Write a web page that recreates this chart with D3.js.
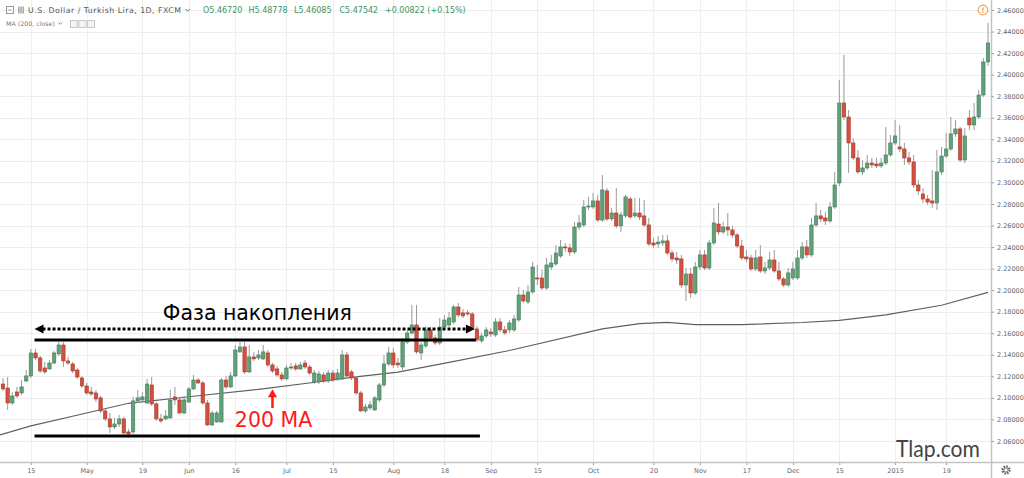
<!DOCTYPE html>
<html>
<head>
<meta charset="utf-8">
<script src="https://cdn.jsdelivr.net/npm/d3@7"></script>
<style>
  html, body { margin: 0; padding: 0; background: #fff; }
  svg { display: block; font-family: "DejaVu Sans", sans-serif; }
</style>
</head>
<body>
<div id="chart"></div>
<script>
// USD/TRY daily candles, Apr 7 2014 .. Jan 30 2015 (no bars on Dec 25, Jan 1)
const firstDay = '2014-04-07';
const lastDay = '2015-01-30';
const skipDays = ['2014-12-25', '2015-01-01'];

const open = [
  2.1129, 2.1092, 2.0953, 2.1055, 2.1046, 2.1157, 2.1204, 2.1417, 2.1371, 2.1278,
  2.1269, 2.1324, 2.1408, 2.1491, 2.1343, 2.1315, 2.1259, 2.1185, 2.1111, 2.1055,
  2.1046, 2.1000, 2.0879, 2.0805, 2.0730, 2.0758, 2.0805, 2.0684, 2.0684, 2.0972,
  2.0981, 2.0953, 2.1120, 2.0944, 2.0805, 2.0805, 2.0814, 2.1009, 2.0981, 2.0860,
  2.0962, 2.1083, 2.1166, 2.1139, 2.0953, 2.0749, 2.0777, 2.0777, 2.1166, 2.1102,
  2.1204, 2.1427, 2.1473, 2.1241, 2.1380, 2.1371, 2.1362, 2.1417, 2.1306, 2.1269,
  2.1213, 2.1176, 2.1278, 2.1297, 2.1269, 2.1324, 2.1287, 2.1148, 2.1148, 2.1213,
  2.1157, 2.1231, 2.1176, 2.1176, 2.1399, 2.1241, 2.1185, 2.1046, 2.0879, 2.0907,
  2.0888, 2.0981, 2.1120, 2.1315, 2.1417, 2.1324, 2.1287, 2.1519, 2.1603, 2.1677,
  2.1417, 2.1482, 2.1631, 2.1556, 2.1510, 2.1658, 2.1677, 2.1705, 2.1844, 2.1789,
  2.1789, 2.1779, 2.1640, 2.1529, 2.1575, 2.1612, 2.1584, 2.1705, 2.1631, 2.1631,
  2.1631, 2.1723, 2.1955, 2.1891, 2.1983, 2.2113, 2.2113, 2.2020, 2.2215, 2.2243,
  2.2317, 2.2401, 2.2392, 2.2354, 2.2586, 2.2605, 2.2772, 2.2772, 2.2828, 2.2651,
  2.2921, 2.2661, 2.2716, 2.2596, 2.2689, 2.2846, 2.2689, 2.2716, 2.2689, 2.2605,
  2.2438, 2.2429, 2.2438, 2.2457, 2.2345, 2.2299, 2.2290, 2.2048, 2.2150, 2.1974,
  2.2215, 2.2327, 2.2206, 2.2438, 2.2614, 2.2540, 2.2586, 2.2559, 2.2512, 2.2410,
  2.2308, 2.2299, 2.2197, 2.2308, 2.2178, 2.2206, 2.2280, 2.2178, 2.2104, 2.2048,
  2.2113, 2.2113, 2.2299, 2.2401, 2.2327, 2.2605, 2.2689, 2.2670, 2.2642, 2.2772,
  2.2995, 2.3737, 2.3607, 2.3366, 2.3227, 2.3097, 2.3134, 2.3180, 2.3171, 2.3153,
  2.3180, 2.3255, 2.3366, 2.3329, 2.3310, 2.3227, 2.3190, 2.2976, 2.2893, 2.2846,
  2.2828, 2.2809, 2.3097, 2.3245, 2.3310, 2.3450, 2.3496, 2.3208, 2.3598, 2.3533,
  2.3607, 2.3811, 2.4118
];
const high = [
  2.1185, 2.1194, 2.1055, 2.1102, 2.1166, 2.1259, 2.1454, 2.1454, 2.1389, 2.1334,
  2.1352, 2.1436, 2.1519, 2.1519, 2.1380, 2.1334, 2.1278, 2.1204, 2.1139, 2.1102,
  2.1074, 2.1018, 2.0897, 2.0860, 2.0814, 2.0842, 2.0823, 2.0712, 2.1009, 2.1074,
  2.1055, 2.1176, 2.1194, 2.0962, 2.0851, 2.0888, 2.1074, 2.1102, 2.1000, 2.1018,
  2.1102, 2.1213, 2.1185, 2.1157, 2.0981, 2.0879, 2.0879, 2.1185, 2.1204, 2.1241,
  2.1491, 2.1519, 2.1519, 2.1491, 2.1427, 2.1445, 2.1491, 2.1445, 2.1324, 2.1297,
  2.1241, 2.1306, 2.1324, 2.1324, 2.1334, 2.1352, 2.1306, 2.1259, 2.1250, 2.1241,
  2.1259, 2.1259, 2.1269, 2.1445, 2.1427, 2.1259, 2.1204, 2.1065, 2.0944, 2.0972,
  2.1018, 2.1139, 2.1399, 2.1473, 2.1464, 2.1371, 2.1556, 2.1631, 2.1863, 2.1863,
  2.1519, 2.1668, 2.1658, 2.1584, 2.1742, 2.1770, 2.1798, 2.1863, 2.1881, 2.1826,
  2.1816, 2.1798, 2.1668, 2.1603, 2.1658, 2.1649, 2.1742, 2.1742, 2.1668, 2.1723,
  2.1770, 2.2030, 2.2002, 2.2048, 2.2262, 2.2234, 2.2187, 2.2299, 2.2327, 2.2419,
  2.2466, 2.2438, 2.2429, 2.2633, 2.2698, 2.2837, 2.2865, 2.2902, 2.2883, 2.3069,
  2.2948, 2.2763, 2.2948, 2.2726, 2.2883, 2.2865, 2.2856, 2.2856, 2.2837, 2.2670,
  2.2484, 2.2503, 2.2512, 2.2512, 2.2373, 2.2354, 2.2327, 2.2206, 2.2206, 2.2262,
  2.2373, 2.2373, 2.2466, 2.2763, 2.2809, 2.2633, 2.2716, 2.2596, 2.2531, 2.2466,
  2.2373, 2.2327, 2.2373, 2.2419, 2.2262, 2.2354, 2.2373, 2.2262, 2.2122, 2.2206,
  2.2262, 2.2373, 2.2447, 2.2466, 2.2670, 2.2809, 2.2744, 2.2726, 2.2818, 2.3097,
  2.3951, 2.4183, 2.3672, 2.3412, 2.3301, 2.3208, 2.3255, 2.3227, 2.3227, 2.3227,
  2.3514, 2.3440, 2.3579, 2.3533, 2.3366, 2.3282, 2.3255, 2.3023, 2.2948, 2.2883,
  2.3115, 2.3301, 2.3329, 2.3459, 2.3607, 2.3579, 2.3514, 2.3505, 2.3672, 2.3737,
  2.3858, 2.4155, 2.4480
];
const low = [
  2.1065, 2.0888, 2.0935, 2.1000, 2.1027, 2.1148, 2.1185, 2.1352, 2.1231, 2.1222,
  2.1259, 2.1315, 2.1389, 2.1287, 2.1306, 2.1231, 2.1176, 2.1092, 2.1027, 2.1018,
  2.0962, 2.0860, 2.0786, 2.0675, 2.0712, 2.0730, 2.0656, 2.0628, 2.0666, 2.0953,
  2.0962, 2.0944, 2.0925, 2.0786, 2.0768, 2.0795, 2.0805, 2.0935, 2.0851, 2.0851,
  2.0953, 2.1074, 2.1129, 2.0935, 2.0740, 2.0740, 2.0768, 2.0768, 2.1083, 2.1092,
  2.1194, 2.1417, 2.1222, 2.1231, 2.1343, 2.1352, 2.1352, 2.1287, 2.1231, 2.1194,
  2.1157, 2.1166, 2.1259, 2.1250, 2.1259, 2.1269, 2.1213, 2.1129, 2.1129, 2.1139,
  2.1139, 2.1148, 2.1157, 2.1166, 2.1185, 2.1166, 2.1027, 2.0870, 2.0860, 2.0888,
  2.0879, 2.0962, 2.1102, 2.1297, 2.1278, 2.1278, 2.1241, 2.1501, 2.1584, 2.1408,
  2.1352, 2.1464, 2.1538, 2.1491, 2.1491, 2.1640, 2.1658, 2.1686, 2.1751, 2.1742,
  2.1761, 2.1631, 2.1519, 2.1510, 2.1556, 2.1566, 2.1566, 2.1612, 2.1584, 2.1603,
  2.1612, 2.1705, 2.1881, 2.1872, 2.1965, 2.2048, 2.2002, 2.2002, 2.2187, 2.2225,
  2.2299, 2.2354, 2.2317, 2.2336, 2.2559, 2.2586, 2.2744, 2.2754, 2.2633, 2.2633,
  2.2642, 2.2642, 2.2577, 2.2540, 2.2670, 2.2661, 2.2670, 2.2651, 2.2586, 2.2410,
  2.2392, 2.2392, 2.2410, 2.2327, 2.2262, 2.2243, 2.2020, 2.1900, 2.1928, 2.1955,
  2.2187, 2.2187, 2.2187, 2.2419, 2.2512, 2.2521, 2.2503, 2.2484, 2.2392, 2.2280,
  2.2262, 2.2178, 2.2178, 2.2160, 2.2150, 2.2187, 2.2160, 2.2085, 2.2030, 2.2030,
  2.2095, 2.2095, 2.2280, 2.2299, 2.2308, 2.2586, 2.2633, 2.2605, 2.2624, 2.2754,
  2.2967, 2.3579, 2.3088, 2.3208, 2.3078, 2.3069, 2.3115, 2.3134, 2.3134, 2.3134,
  2.3162, 2.3236, 2.3347, 2.3282, 2.3162, 2.3162, 2.2948, 2.2883, 2.2809, 2.2791,
  2.2763, 2.2744, 2.3069, 2.3227, 2.3292, 2.3422, 2.3190, 2.3180, 2.3487, 2.3487,
  2.3589, 2.3793, 2.4081
];
const close = [
  2.1083, 2.0953, 2.1018, 2.1018, 2.1102, 2.1204, 2.1417, 2.1371, 2.1250, 2.1241,
  2.1324, 2.1417, 2.1491, 2.1343, 2.1324, 2.1250, 2.1194, 2.1111, 2.1046, 2.1037,
  2.0990, 2.0879, 2.0805, 2.0730, 2.0758, 2.0805, 2.0675, 2.0666, 2.0972, 2.1000,
  2.1009, 2.1129, 2.0944, 2.0805, 2.0786, 2.0832, 2.0981, 2.0981, 2.0860, 2.0981,
  2.1083, 2.1166, 2.1139, 2.0953, 2.0749, 2.0860, 2.0860, 2.1166, 2.1102, 2.1204,
  2.1445, 2.1473, 2.1241, 2.1380, 2.1362, 2.1399, 2.1427, 2.1306, 2.1250, 2.1213,
  2.1176, 2.1278, 2.1287, 2.1269, 2.1306, 2.1287, 2.1231, 2.1231, 2.1222, 2.1157,
  2.1231, 2.1166, 2.1231, 2.1399, 2.1204, 2.1185, 2.1046, 2.0879, 2.0916, 2.0935,
  2.1000, 2.1120, 2.1315, 2.1417, 2.1306, 2.1306, 2.1519, 2.1603, 2.1677, 2.1427,
  2.1491, 2.1631, 2.1556, 2.1510, 2.1658, 2.1723, 2.1742, 2.1844, 2.1770, 2.1761,
  2.1779, 2.1649, 2.1538, 2.1575, 2.1631, 2.1594, 2.1705, 2.1631, 2.1603, 2.1696,
  2.1733, 2.1955, 2.1900, 2.1983, 2.2215, 2.2104, 2.2020, 2.2234, 2.2252, 2.2345,
  2.2401, 2.2392, 2.2354, 2.2586, 2.2624, 2.2772, 2.2781, 2.2828, 2.2651, 2.2930,
  2.2661, 2.2716, 2.2596, 2.2698, 2.2865, 2.2679, 2.2716, 2.2679, 2.2605, 2.2429,
  2.2419, 2.2447, 2.2457, 2.2345, 2.2290, 2.2280, 2.2048, 2.2150, 2.1974, 2.2215,
  2.2327, 2.2206, 2.2438, 2.2624, 2.2540, 2.2586, 2.2559, 2.2512, 2.2410, 2.2299,
  2.2290, 2.2197, 2.2299, 2.2178, 2.2206, 2.2280, 2.2178, 2.2104, 2.2048, 2.2160,
  2.2197, 2.2299, 2.2401, 2.2327, 2.2605, 2.2689, 2.2661, 2.2642, 2.2772, 2.2976,
  2.3737, 2.3607, 2.3366, 2.3227, 2.3097, 2.3134, 2.3180, 2.3162, 2.3153, 2.3180,
  2.3255, 2.3366, 2.3431, 2.3310, 2.3227, 2.3190, 2.2976, 2.2921, 2.2846, 2.2818,
  2.2809, 2.3097, 2.3245, 2.3310, 2.3450, 2.3496, 2.3208, 2.3431, 2.3533, 2.3607,
  2.3811, 2.4118, 2.4294
];

// MA(200, close) read at a few bars
const maDay = ['2014-04-07', '2014-04-15', '2014-05-01', '2014-05-14', '2014-06-04', '2014-06-23',
  '2014-07-10', '2014-07-21', '2014-08-04', '2014-08-19', '2014-09-05', '2014-10-03', '2014-10-15',
  '2014-10-23', '2014-10-31', '2014-11-14', '2014-12-03', '2014-12-15', '2014-12-30', '2015-01-16', '2015-01-30'];
const maValue = [2.0656, 2.074, 2.086, 2.095, 2.102, 2.108, 2.115, 2.119, 2.124, 2.133, 2.144,
  2.164, 2.169, 2.170, 2.168, 2.168, 2.170, 2.172, 2.177, 2.186, 2.198];

const priceTicks = [2.06, 2.08, 2.10, 2.12, 2.14, 2.16, 2.18, 2.20, 2.22, 2.24, 2.26,
  2.28, 2.30, 2.32, 2.34, 2.36, 2.38, 2.40, 2.42, 2.44, 2.46];
const dateTicks = ['2014-04-15', '2014-05-01', '2014-05-19', '2014-06-02', '2014-06-16', '2014-07-01',
  '2014-07-15', '2014-08-01', '2014-08-18', '2014-09-01', '2014-09-15', '2014-10-01', '2014-10-20',
  '2014-11-03', '2014-11-17', '2014-12-01', '2014-12-15', '2015-01-02', '2015-01-19'];
const dateTickLabels = ['15', 'May', '19', 'Jun', '16', 'Jul', '15', 'Aug', '18', 'Sep', '15',
  'Oct', '20', 'Nov', '17', 'Dec', '15', '2015', '19'];

const legendValues = ['O5.46720', 'H5.48778', 'L5.46085', 'C5.47542', '+0.00822 (+0.15%)'];

// accumulation range drawn on top
const rangeTop = 2.1538, rangeBottom = 2.0647, arrowLevel = 2.1640;
const rangeFrom = '2014-04-16', rangeTo = '2014-08-27';

const W = 1024, H = 478;
const AXIS_X = 991, AXIS_Y = 462;

const fmt = d3.utcFormat('%Y-%m-%d');
const days = d3.utcDay.range(new Date(firstDay), d3.utcDay.offset(new Date(lastDay), 1))
  .filter(d => d.getUTCDay() % 6 !== 0)
  .map(fmt)
  .filter(d => !skipDays.includes(d));
const dayIndex = new Map(days.map((d, i) => [d, i]));

const bars = days.map((d, i) => ({ day: d, i, o: open[i], h: high[i], l: low[i], c: close[i] }));

const x = d3.scaleLinear().domain([0, days.length - 1]).range([3, 988]);
const y = d3.scaleLinear().domain([2.06, 2.46]).range([441, 10]);
const xd = d => x(dayIndex.get(d));

const svg = d3.select('#chart').append('svg')
  .attr('width', W).attr('height', H);

// grid
const grid = svg.append('g').attr('stroke', '#eeeeee').attr('stroke-width', 1);
grid.selectAll('.hg').data(priceTicks).join('line')
  .attr('x1', 0).attr('x2', AXIS_X)
  .attr('y1', d => Math.round(y(d)) + 0.5).attr('y2', d => Math.round(y(d)) + 0.5);
grid.selectAll('.vg').data(dateTicks).join('line')
  .attr('y1', 0).attr('y2', AXIS_Y)
  .attr('x1', d => Math.round(xd(d)) + 0.5).attr('x2', d => Math.round(xd(d)) + 0.5);

// moving average
svg.append('path')
  .datum(maDay.map((d, k) => [xd(d), maValue[k]]))
  .attr('fill', 'none').attr('stroke', '#606060').attr('stroke-width', 1.2)
  .attr('d', d3.line().x((p, k) => k === 0 ? 0 : p[0]).y(p => y(p[1])));

// candles
const bw = 3.4;
const cg = svg.append('g').selectAll('g').data(bars).join('g');
cg.append('line')
  .attr('x1', d => x(d.i)).attr('x2', d => x(d.i))
  .attr('y1', d => y(d.h)).attr('y2', d => y(d.l))
  .attr('stroke', '#9a9a9a').attr('stroke-width', 1);
cg.append('rect')
  .attr('x', d => x(d.i) - bw / 2)
  .attr('width', bw)
  .attr('y', d => y(Math.max(d.o, d.c)))
  .attr('height', d => Math.max(1, Math.abs(y(d.o) - y(d.c))))
  .attr('fill', d => d.c >= d.o ? '#62a07a' : '#d2503f')
  .attr('stroke', d => d.c >= d.o ? '#3f7f58' : '#a8392c')
  .attr('stroke-width', 0.6);

// annotation: accumulation range
const ax0 = xd(rangeFrom) - 1, ax1 = xd(rangeTo) + 2;
const ann = svg.append('g');
ann.append('line').attr('x1', ax0).attr('x2', ax1 - 3)
  .attr('y1', y(rangeTop)).attr('y2', y(rangeTop))
  .attr('stroke', '#000').attr('stroke-width', 3);
ann.append('line').attr('x1', ax0).attr('x2', ax1 + 1)
  .attr('y1', y(rangeBottom)).attr('y2', y(rangeBottom))
  .attr('stroke', '#000').attr('stroke-width', 3);
const ay = y(arrowLevel);
ann.append('line').attr('x1', ax0 + 8).attr('x2', ax1 - 11)
  .attr('y1', ay).attr('y2', ay)
  .attr('stroke', '#000').attr('stroke-width', 3).attr('stroke-dasharray', '3,2');
ann.append('path').attr('fill', '#000')
  .attr('d', `M${ax0},${ay} l9,-4.5 v9 Z M${ax1 - 4},${ay} l-9,-4.5 v9 Z`);
ann.append('text')
  .attr('x', x(34.4)).attr('y', y(2.1723))
  .attr('font-size', 22).attr('textLength', 189).attr('lengthAdjust', 'spacingAndGlyphs')
  .attr('fill', '#000').text('Фаза накопления');

// annotation: 200 MA arrow
const mx = xd('2014-06-26');
ann.append('line').attr('x1', mx).attr('x2', mx)
  .attr('y1', y(2.0907)).attr('y2', y(2.1030))
  .attr('stroke', '#ff1a1a').attr('stroke-width', 2.5);
ann.append('path').attr('fill', '#ff1a1a')
  .attr('d', `M${mx},${y(2.1080)} l-4.5,8 h9 Z`);
ann.append('text')
  .attr('x', x(49.9)).attr('y', y(2.0730))
  .attr('font-size', 20.5).attr('fill', '#ff1a1a').text('200 MA');

// axes
const yAxis = svg.append('g').attr('transform', `translate(${AXIS_X},0)`)
  .call(d3.axisRight(y).tickValues(priceTicks).tickFormat(d3.format('.5f')).tickSize(3).tickPadding(3));
const xAxis = svg.append('g').attr('transform', `translate(0,${AXIS_Y})`)
  .call(d3.axisBottom(x).tickValues(dateTicks.map(d => dayIndex.get(d)))
    .tickFormat((d, k) => dateTickLabels[k]).tickSize(3).tickPadding(3));
[yAxis, xAxis].forEach(a => {
  a.select('.domain').remove();
  a.selectAll('line').attr('stroke', '#9a9a9a');
  a.selectAll('text').attr('fill', '#666').attr('font-size', 6.5)
    .attr('font-family', '"DejaVu Sans", sans-serif');
});
svg.append('line').attr('x1', AXIS_X + 0.5).attr('x2', AXIS_X + 0.5).attr('y1', 0).attr('y2', H)
  .attr('stroke', '#c4c4c4').attr('stroke-width', 1.5);
svg.append('line').attr('x1', 0).attr('x2', W).attr('y1', AXIS_Y + 0.5).attr('y2', AXIS_Y + 0.5)
  .attr('stroke', '#c4c4c4').attr('stroke-width', 1.5);

// gear in corner
const gear = svg.append('g').attr('transform', 'translate(1006,470)')
  .attr('fill', 'none').attr('stroke', '#666');
gear.append('circle').attr('r', 3.6).attr('stroke-width', 2.2).attr('stroke-dasharray', '1.6,1.2');
gear.append('circle').attr('r', 2.2).attr('stroke-width', 1).attr('fill', '#fff');

// watermark
svg.append('text').attr('x', 896).attr('y', 457)
  .attr('font-family', 'Lato, sans-serif').attr('font-size', 23)
  .attr('textLength', 84).attr('lengthAdjust', 'spacingAndGlyphs')
  .attr('fill', '#444').text('Tlap.com');

// alert icon top right
const alert = svg.append('g').attr('transform', 'translate(983,10)');
alert.append('circle').attr('r', 4.8).attr('fill', '#fff').attr('stroke', '#f4a261').attr('stroke-width', 1.2);
alert.append('text').attr('y', 2.8).attr('text-anchor', 'middle').attr('font-size', 7.5)
  .attr('font-weight', 'bold').attr('fill', '#f4a261').text('!');

// legend header
const head = svg.append('g').attr('font-size', 7.8);
head.append('rect').attr('x', 6.5).attr('y', 6.5).attr('width', 7).attr('height', 7)
  .attr('fill', 'none').attr('stroke', '#999');
head.append('line').attr('x1', 8.5).attr('x2', 11.5).attr('y1', 10).attr('y2', 10).attr('stroke', '#999');
head.selectAll('.ic').data([0, 1, 2]).join('rect')
  .attr('x', k => 18 + k * 2.2).attr('y', 6.5).attr('width', 1.6).attr('height', 7).attr('fill', '#aaa');
head.append('text').attr('x', 28).attr('y', 12.7).attr('fill', '#555')
  .attr('textLength', 153).attr('lengthAdjust', 'spacing')
  .text('U.S. Dollar / Turkish Lira, 1D, FXCM');
head.append('path').attr('d', 'M185.5,9 l2.2,2.2 l2.2,-2.2').attr('fill', 'none').attr('stroke', '#777');
head.selectAll('.lv').data(legendValues).join('text')
  .attr('x', (d, k) => 203 + k * 45.5).attr('y', 12.7).attr('fill', '#3f9462')
  .attr('font-size', 8).text(d => d);
head.append('text').attr('x', 6).attr('y', 26).attr('font-size', 6.3).attr('fill', '#777')
  .text('MA (200, close)');
head.append('path').attr('d', 'M58.5,22.5 l1.8,1.8 l1.8,-1.8').attr('fill', 'none').attr('stroke', '#888');
head.selectAll('.bx').data([0, 1, 2]).join('rect')
  .attr('x', k => 70.5 + k * 8.5).attr('y', 20.5).attr('width', 7).attr('height', 7)
  .attr('fill', '#f3f3f3').attr('stroke', '#c8c8c8');
</script>
</body>
</html>
